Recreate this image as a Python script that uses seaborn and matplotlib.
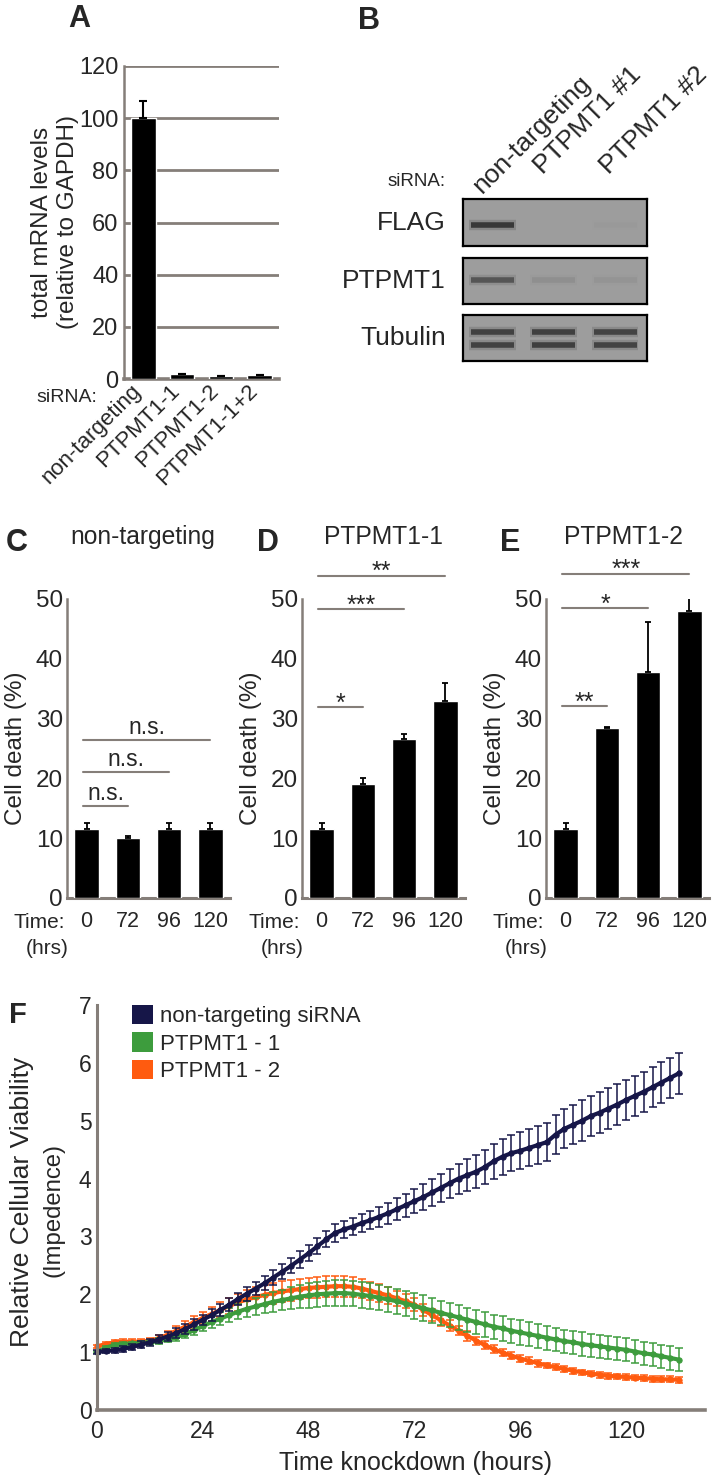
import matplotlib
matplotlib.use('Agg')
import matplotlib.pyplot as plt
from matplotlib.patches import Patch
from matplotlib.transforms import ScaledTranslation
import numpy as np
import seaborn as sns

# ---- panel A: qPCR mRNA levels
mrna_groups = ['non-targeting', 'PTPMT1-1', 'PTPMT1-2', 'PTPMT1-1+2']
mrna_levels = [100.0, 2.0, 1.0, 1.5]
mrna_err = [6.5, 0.0, 0.0, 0.0]

# ---- panel B: western blot band intensities (0-1) per lane
blot_lanes = ['non-targeting', 'PTPMT1 #1', 'PTPMT1 #2']
flag_bands = [0.9, 0.0, 0.02]
ptpmt1_bands = [0.6, 0.1, 0.06]
tubulin_bands = [0.8, 0.82, 0.78]

# ---- panels C-E: cell death (%)
time_labels = ['0', '72', '96', '120']
death_nt = [11.5, 10.1, 11.5, 11.5]
death_nt_err = [1.1, 0.2, 1.1, 1.1]
death_p1 = [11.5, 19.0, 26.6, 33.0]
death_p1_err = [1.1, 1.1, 0.8, 3.0]
death_p2 = [11.5, 28.5, 37.8, 48.0]
death_p2_err = [1.0, 0.1, 8.3, 3.0]

# significance brackets: (from bar, to bar, height, label)
sig_nt = [(0, 1, 15.4, 'n.s.'), (0, 2, 21.0, 'n.s.'), (0, 3, 26.4, 'n.s.')]
sig_p1 = [(0, 1, 31.9, '*'), (0, 2, 48.3, '***'), (0, 3, 53.9, '**')]
sig_p2 = [(0, 1, 32.1, '**'), (0, 2, 48.5, '*'), (0, 3, 54.2, '***')]

# ---- panel F: impedance time course, read every 2 h
hours = np.arange(0, 133, 2)
nt_mean = [1.00, 1.02, 1.03, 1.06, 1.09, 1.13, 1.17, 1.22, 1.27, 1.33,
           1.40, 1.48, 1.56, 1.64, 1.73, 1.82, 1.92, 2.01, 2.10, 2.19,
           2.29, 2.39, 2.49, 2.60, 2.71, 2.83, 2.95, 3.06, 3.12, 3.17,
           3.23, 3.28, 3.34, 3.40, 3.47, 3.54, 3.61, 3.68, 3.76, 3.84,
           3.92, 4.00, 4.06, 4.12, 4.20, 4.30, 4.38, 4.44, 4.48, 4.53,
           4.58, 4.63, 4.76, 4.86, 4.93, 5.00, 5.08, 5.14, 5.21, 5.28,
           5.36, 5.43, 5.50, 5.58, 5.66, 5.74, 5.82]
nt_err = [.04, .04, .05, .05, .05, .06, .06, .07, .07, .08,
          .08, .09, .09, .10, .10, .11, .11, .12, .12, .12,
          .13, .13, .13, .14, .14, .14, .14, .15, .15, .15,
          .16, .16, .17, .18, .19, .20, .21, .22, .23, .24,
          .25, .26, .27, .28, .29, .30, .31, .31, .32, .32,
          .33, .33, .34, .34, .34, .35, .35, .35, .35, .35,
          .35, .35, .35, .35, .35, .35, .35]
p1_mean = [1.00, 1.08, 1.12, 1.14, 1.15, 1.16, 1.17, 1.19, 1.22, 1.26,
           1.31, 1.38, 1.45, 1.52, 1.58, 1.64, 1.70, 1.75, 1.79, 1.83,
           1.87, 1.90, 1.93, 1.96, 1.98, 2.00, 2.01, 2.02, 2.02, 2.01,
           1.99, 1.97, 1.94, 1.91, 1.88, 1.84, 1.80, 1.76, 1.72, 1.68,
           1.64, 1.60, 1.56, 1.52, 1.48, 1.44, 1.41, 1.37, 1.34, 1.31,
           1.28, 1.25, 1.22, 1.19, 1.17, 1.14, 1.12, 1.10, 1.08, 1.06,
           1.04, 1.01, 0.98, 0.96, 0.93, 0.90, 0.87]
p1_err = [.02, .03, .03, .03, .03, .04, .04, .05, .05, .06,
          .07, .08, .09, .10, .11, .12, .13, .14, .15, .16,
          .17, .18, .19, .20, .21, .22, .22, .22, .22, .22,
          .22, .22, .22, .22, .22, .22, .22, .22, .22, .21,
          .21, .21, .21, .21, .21, .21, .21, .21, .21, .21,
          .21, .21, .20, .20, .20, .20, .20, .20, .20, .20,
          .20, .20, .20, .20, .20, .20, .20]
p2_mean = [1.10, 1.14, 1.17, 1.18, 1.18, 1.18, 1.20, 1.24, 1.30, 1.37,
           1.44, 1.52, 1.59, 1.66, 1.73, 1.80, 1.86, 1.91, 1.95, 1.99,
           2.02, 2.05, 2.07, 2.09, 2.11, 2.12, 2.13, 2.14, 2.14, 2.13,
           2.10, 2.06, 2.02, 1.98, 1.93, 1.88, 1.82, 1.73, 1.64, 1.55,
           1.46, 1.37, 1.28, 1.20, 1.12, 1.05, 0.99, 0.94, 0.89, 0.85,
           0.81, 0.77, 0.74, 0.71, 0.68, 0.65, 0.63, 0.61, 0.59, 0.58,
           0.57, 0.56, 0.55, 0.54, 0.53, 0.53, 0.52]
p2_err = [.03, .04, .04, .04, .04, .04, .05, .06, .07, .08,
          .09, .10, .11, .12, .13, .14, .15, .16, .17, .17,
          .18, .18, .18, .18, .18, .18, .18, .18, .18, .17,
          .17, .16, .15, .14, .13, .12, .11, .10, .10, .09,
          .09, .08, .08, .07, .07, .07, .06, .06, .06, .06,
          .06, .05, .05, .05, .05, .05, .05, .05, .05, .05,
          .05, .05, .05, .05, .05, .05, .05]
series_names = ['non-targeting siRNA', 'PTPMT1 - 1', 'PTPMT1 - 2']

W, H, DPI = 718, 1483, 100
GRAY = '#857e79'
NAVY, GREEN, ORANGE = '#161648', '#3d9c3d', '#ff5b0f'

sns.set_theme(style='white')
plt.rcParams['font.family'] = ['Liberation Sans', 'DejaVu Sans']

fig = plt.figure(figsize=(W / DPI, H / DPI), dpi=DPI)


def box(l, t, r, b):
    return [l / W, 1 - b / H, (r - l) / W, (b - t) / H]


def put(x, y, s, **kw):
    kw.setdefault('ha', 'center')
    kw.setdefault('va', 'center')
    fig.text(x / W, 1 - y / H, s, **kw)


def gray_spines(ax, lw_left=1.8, lw_bottom=2.2):
    for side in ['top', 'right']:
        ax.spines[side].set_visible(False)
    ax.spines['left'].set_color(GRAY)
    ax.spines['left'].set_linewidth(lw_left)
    ax.spines['bottom'].set_color(GRAY)
    ax.spines['bottom'].set_linewidth(lw_bottom)


# ================= A
axA = fig.add_axes(box(124, 66, 279, 379))
sns.barplot(x=mrna_groups, y=mrna_levels, color='black', saturation=1,
            width=0.63, errorbar=None, ax=axA, zorder=3)
axA.errorbar(range(len(mrna_levels)), mrna_levels,
             yerr=[np.zeros(len(mrna_err)), mrna_err], fmt='none',
             ecolor='black', elinewidth=1.5, capsize=3, capthick=1.5, zorder=4)
axA.set_ylim(0, 120)
axA.set_yticks(range(0, 121, 20))
axA.grid(axis='y', color=GRAY, linewidth=2.0)
axA.set_axisbelow(True)
gray_spines(axA, 1.8, 2.6)
axA.tick_params(axis='y', labelsize=17, length=3, color=GRAY, width=1.2, pad=1)
axA.tick_params(axis='x', labelsize=16, length=0, pad=6.5)
for lab in axA.get_xticklabels():
    lab.set_rotation(45)
    lab.set_ha('right')
    lab.set_va('center')
    lab.set_rotation_mode('anchor')
    lab.set_transform(lab.get_transform() + ScaledTranslation(-0.05, 0, fig.dpi_scale_trans))
put(55, 222, 'total mRNA levels\n(relative to GAPDH)', rotation=90,
    fontsize=17.5, linespacing=1.2, multialignment='center')
put(97, 397, 'siRNA:', ha='right', fontsize=14)
put(79, 19, 'A', fontsize=22, fontweight='bold')

# ================= B
put(369, 21, 'B', fontsize=22, fontweight='bold')
blots = [('FLAG', flag_bands, 199, 246, [0.45]),
         ('PTPMT1', ptpmt1_bands, 258, 304, [0.52]),
         ('Tubulin', tubulin_bands, 315, 361, [0.63, 0.35])]
for name, bands, top, bot, rows in blots:
    ax = fig.add_axes(box(463, top, 647, bot))
    ax.set_facecolor('#9d9d9d')
    ax.set_xlim(-0.5, 2.5)
    ax.set_ylim(0, 1)
    ax.set_xticks([])
    ax.set_yticks([])
    for s in ax.spines.values():
        s.set_color('black')
        s.set_linewidth(1.6)
        s.set_visible(True)
    for lane, inten in enumerate(bands):
        for yb in rows:
            ax.hlines(yb, lane - 0.4, lane + 0.36, color='#3a3a3a',
                      alpha=inten * 0.25, lw=7.5)
            ax.hlines(yb, lane - 0.37, lane + 0.33, color='#262626',
                      alpha=inten * 0.9, lw=4)
    put(446, (top + bot) / 2, name, ha='right', fontsize=19)
put(446, 182, 'siRNA:', ha='right', fontsize=13.5)
for lab, (lx, ly) in zip(blot_lanes, [(482, 194), (543, 175), (609, 175)]):
    put(lx, ly, lab, ha='left', va='baseline', rotation=45,
        rotation_mode='anchor', fontsize=19)

# ================= C, D, E
death_panels = [
    ('C', 'non-targeting', death_nt, death_nt_err, sig_nt, 67, 17, 143),
    ('D', 'PTPMT1-1', death_p1, death_p1_err, sig_p1, 302, 268, 383),
    ('E', 'PTPMT1-2', death_p2, death_p2_err, sig_p2, 546, 510, 623),
]
for letter, title, vals, errs, sigs, left, lx, tx in death_panels:
    ax = fig.add_axes(box(left, 599, left + 163, 898))
    sns.barplot(x=time_labels, y=vals, color='black', saturation=1,
                width=0.59, errorbar=None, ax=ax, zorder=3)
    ax.errorbar(range(len(vals)), vals, yerr=[np.zeros(len(errs)), errs],
                fmt='none', ecolor='black', elinewidth=1.3, capsize=2,
                capthick=1.3, zorder=4)
    ax.set_ylim(0, 50)
    ax.set_yticks(range(0, 51, 10))
    gray_spines(ax, 1.8, 2.2)
    ax.tick_params(axis='y', labelsize=17.5, length=2, color=GRAY, width=1, pad=1)
    ax.tick_params(axis='x', labelsize=15.5, length=0, pad=9.5)
    ax.set_xlabel('')
    for i, j, h, lab in sigs:
        x0, x1 = i - 0.08, j
        ax.plot([x0, x1], [h, h], color=GRAY, lw=1.5, clip_on=False)
        if lab == 'n.s.':
            ax.annotate(lab, xy=((x0 + x1) / 2, h), xytext=(0, 1),
                        textcoords='offset points', ha='center', va='bottom',
                        fontsize=16.5, annotation_clip=False)
        else:
            ax.annotate(lab, xy=((x0 + x1) / 2, h), xytext=(0, -2.5),
                        textcoords='offset points', ha='center', va='baseline',
                        fontsize=18, annotation_clip=False)
    put(left - 2, 922, 'Time:', ha='right', fontsize=15)
    put(left - 20, 948, '(hrs)', fontsize=15)
    put(left - 51, 748, 'Cell death (%)', rotation=90, fontsize=17.5)
    put(tx, 537, title, fontsize=17.7)
    put(lx, 543, letter, fontsize=22, fontweight='bold')

# ================= F
axF = fig.add_axes(box(97, 1005, 705, 1410))
for mean, err, col in [(p2_mean, p2_err, ORANGE), (p1_mean, p1_err, GREEN),
                       (nt_mean, nt_err, NAVY)]:
    axF.errorbar(hours, mean, yerr=err, fmt='none', ecolor=col,
                 elinewidth=1.1, capsize=3.2, capthick=1.1, clip_on=False)
    sns.lineplot(x=hours, y=mean, color=col, lw=3, marker='o', ms=3.8,
                 mec=col, ax=axF, clip_on=False)
axF.set_xlim(0, 137.9)
axF.set_ylim(0, 7)
axF.set_xticks(range(0, 121, 24))
axF.set_yticks(range(0, 8))
gray_spines(axF, 2.2, 2.6)
axF.tick_params(axis='x', labelsize=16.5, length=4, color=GRAY, width=1.4, pad=3)
axF.tick_params(axis='y', labelsize=16.5, length=3, color=GRAY, width=1.4, pad=1)
handles = [Patch(facecolor=c, edgecolor='none') for c in [NAVY, GREEN, ORANGE]]
axF.legend(handles, series_names, loc='upper left', bbox_to_anchor=(0.058, 1.0),
           frameon=False, fontsize=16, handlelength=0.95, handleheight=0.95,
           handletextpad=0.3, labelspacing=0.23, borderpad=0, borderaxespad=0)
put(415, 1463, 'Time knockdown (hours)', fontsize=18)
put(22, 1202, 'Relative Cellular Viability', rotation=90, fontsize=19)
put(53, 1210, '(Impedence)', rotation=90, fontsize=17.2)
put(18, 1015, 'F', fontsize=21, fontweight='bold')

fig.savefig('out.png', dpi=DPI)
